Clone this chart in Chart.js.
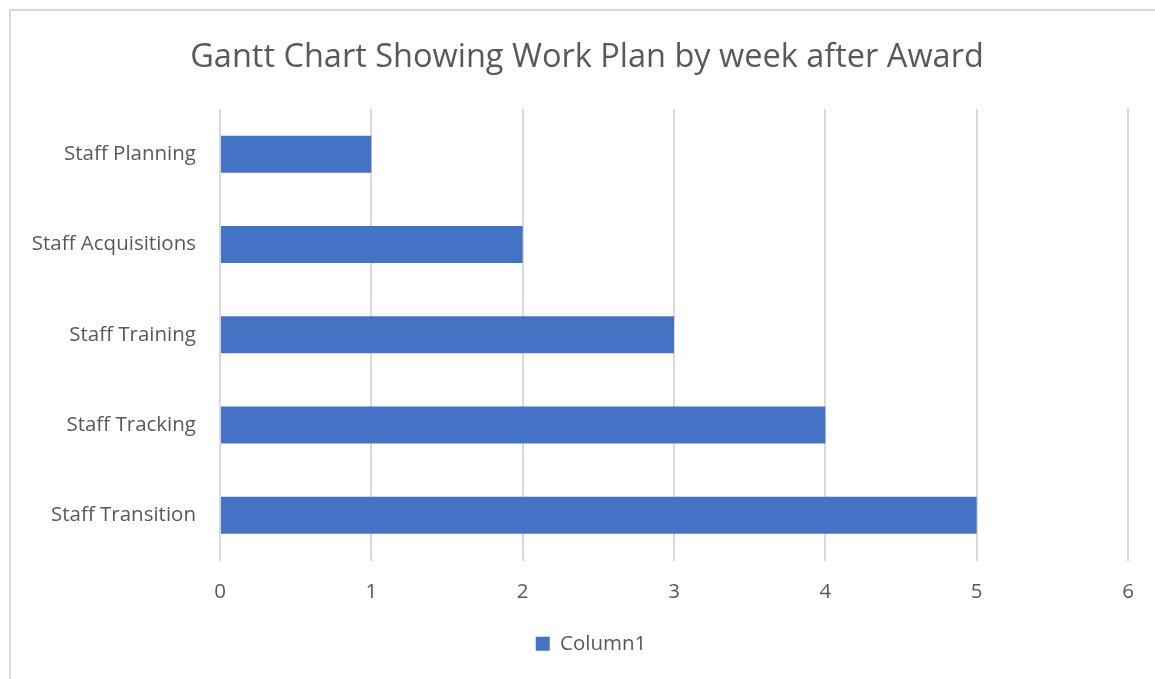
<!DOCTYPE html>
<html>
<head>
<meta charset="utf-8">
<script src="https://cdn.jsdelivr.net/npm/chart.js@4/dist/chart.umd.min.js"></script>
<style>
html,body{margin:0;padding:0;background:#fff;overflow:hidden;}
#frame{position:absolute;left:9px;top:9px;width:1160px;height:700px;border:2px solid #d9d9d9;box-sizing:border-box;}
#c{position:absolute;left:0;top:0;}
</style>
</head>
<body>
<div id="frame"></div>
<canvas id="c" width="1155" height="679"></canvas>
<script>
const categories = ["Staff Planning", "Staff Acquisitions", "Staff Training", "Staff Tracking", "Staff Transition"];
const column1 = [1, 2, 3, 4, 5];
const seriesName = "Column1";
const titleText = "Gantt Chart Showing Work Plan by week after Award";
const xMin = 0, xMax = 6, xStep = 1;

const FONT = "'Open Sans', 'Noto Sans', sans-serif";
const GREY = "#595959";

// centre title and legend on the whole chart frame rather than the padded area
const frameCentre = {
  id: 'frameCentre',
  afterLayout(chart) {
    const shift = 23;
    if (chart.titleBlock) { chart.titleBlock.left += shift; chart.titleBlock.right += shift; }
    if (chart.legend) { chart.legend.left += shift + 4; chart.legend.right += shift + 4; }
  }
};

new Chart(document.getElementById('c'), {
  type: 'bar',
  data: {
    labels: categories,
    datasets: [{
      label: seriesName,
      data: column1,
      backgroundColor: '#4472C4',
      borderWidth: 0,
      categoryPercentage: 1,
      barPercentage: 0.41
    }]
  },
  plugins: [frameCentre],
  options: {
    indexAxis: 'y',
    responsive: false,
    animation: false,
    devicePixelRatio: 1,
    layout: { padding: { left: 0, right: 27, top: 0, bottom: 15 } },
    plugins: {
      title: {
        display: true,
        text: titleText,
        color: GREY,
        font: { family: FONT, size: 32.5, weight: 'normal', lineHeight: 1.2 },
        padding: { top: 38, bottom: 32 }
      },
      legend: {
        position: 'bottom',
        labels: {
          color: GREY,
          font: { family: FONT, size: 20.5 },
          boxWidth: 14,
          boxHeight: 14,
          padding: 10,
          useBorderRadius: false
        }
      },
      tooltip: { enabled: false }
    },
    scales: {
      x: {
        min: xMin,
        max: xMax,
        ticks: { stepSize: xStep, color: GREY, font: { family: FONT, size: 20.5 }, padding: 19 },
        grid: { color: '#d9d9d9', lineWidth: 2, drawTicks: false },
        border: { display: false },
        afterFit(s) { s.height = 63; }
      },
      y: {
        ticks: { color: GREY, font: { family: FONT, size: 20.5 }, padding: 24 },
        grid: { display: false, drawTicks: false },
        border: { display: false },
        afterFit(s) { s.width = 220; }
      }
    }
  }
});
</script>
</body>
</html>
